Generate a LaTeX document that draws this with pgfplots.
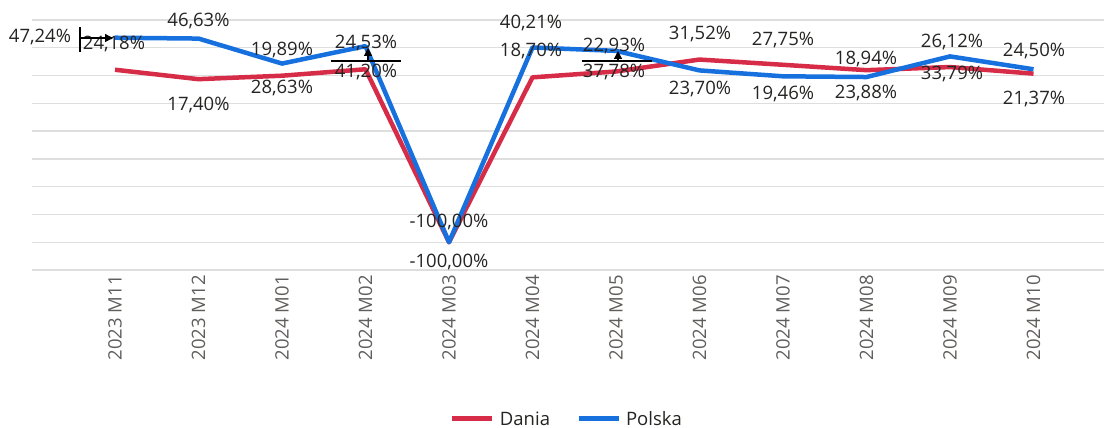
\documentclass[border=0pt]{standalone}
\usepackage{fontspec}
\setmainfont{Open Sans}
\usepackage{pgfplots}
\usepackage{pgfplotstable}
\pgfplotsset{compat=1.18}
\usetikzlibrary{arrows.meta}

\definecolor{dania}{RGB}{214,44,72}
\definecolor{polska}{RGB}{22,112,222}
\definecolor{gridc}{RGB}{222,222,222}
\definecolor{tickc}{RGB}{96,94,92}
\definecolor{labc}{RGB}{37,36,35}

% x = month index, y = value (%), dx/dy = label offset in pt
\pgfplotstableread{
x  y      dx    dy
0  24.18  -1    25.7
1  17.40  0     -25.5
2  19.89  0     25.7
3  24.53  0.5   25.8
4  -100   0     20.7
5  18.70  -1.5  25.9
6  22.93  -2    25.5
7  31.52  0.5   26
8  27.75  0     24.8
9  23.88  -0.5  -23.3
10 26.12  2     25.5
11 21.37  0.5   -24.9
}\dania

\pgfplotstableread{
x  y      dx    dy
0  47.24  -75   1
1  46.63  0     17.6
2  28.63  0     -24.5
3  41.20  0.5   -25.4
4  -100   0     -19.3
5  40.21  -1.5  24
6  37.78  -2    -21.1
7  23.70  0.5   -18.1
8  19.46  0     -17.2
9  18.94  -0.5  18.5
10 33.79  2     -17.6
11 24.50  0.5   18.8
}\polska

\newcommand\lblfont{\fontsize{18.5}{21}\selectfont}

\begin{document}
\begin{tikzpicture}
\useasboundingbox (-32pt,-158pt) rectangle (1072pt,270pt);
\begin{axis}[
    at={(0pt,0pt)}, anchor=south west,
    width=1072pt, height=250pt, scale only axis,
    xmin=-0.994, xmax=11.844,
    ymin=-120, ymax=60,
    ytick={-120,-100,...,60}, yticklabels={},
    ymajorgrids, grid style={gridc, line width=1.3pt},
    axis line style={draw=none},
    major tick length=0pt,
    xtick={0,...,11},
    xticklabels={2023 M11,2023 M12,2024 M01,2024 M02,2024 M03,2024 M04,2024 M05,2024 M06,2024 M07,2024 M08,2024 M09,2024 M10},
    xticklabel style={rotate=90, anchor=east, text=tickc, inner sep=0pt, font=\lblfont},
    xticklabel shift=5pt,
    clip=false,
    legend columns=2,
    legend style={at={(0.499,-0.596)}, anchor=center, draw=none, font=\lblfont, text=labc,
        /tikz/every even column/.append style={column sep=24pt},
        /tikz/every odd column/.append style={column sep=3pt}},
    legend image code/.code={\draw[#1, line width=5pt] (0pt,0pt) -- (40pt,0pt);},
    point meta=y,
]
\addplot[dania, line width=4.5pt, line join=round] table[x=x,y=y]{\dania};
\addplot[polska, line width=4.5pt, line join=round] table[x=x,y=y]{\polska};
\legend{Dania, Polska}

\addplot[draw=none, forget plot,
    visualization depends on={\thisrow{dx}\as\lblx},
    visualization depends on={\thisrow{dy}\as\lbly},
    nodes near coords={\pgfmathprintnumber[fixed,fixed zerofill,precision=2,use comma,assume math mode=true]{\pgfplotspointmeta}\%},
    every node near coord/.append style={anchor=center, font=\lblfont, text=labc, xshift=\lblx pt, yshift=\lbly pt}]
    table[x=x,y=y]{\dania};
\addplot[draw=none, forget plot,
    visualization depends on={\thisrow{dx}\as\lblx},
    visualization depends on={\thisrow{dy}\as\lbly},
    nodes near coords={\pgfmathprintnumber[fixed,fixed zerofill,precision=2,use comma,assume math mode=true]{\pgfplotspointmeta}\%},
    every node near coord/.append style={anchor=center, font=\lblfont, text=labc, xshift=\lblx pt, yshift=\lbly pt}]
    table[x=x,y=y]{\polska};
\end{axis}

% small black markers left by the original report
\draw[black, line width=1.2pt] (48pt,243pt) -- (48pt,218pt);
\draw[black, line width=1.2pt, -{Triangle[length=8pt,width=8pt]}] (49pt,232pt) -- (81pt,232pt);
\draw[black, line width=1.2pt] (299pt,209pt) -- (369pt,209pt);
\draw[black, line width=1.2pt, -{Triangle[length=8pt,width=8pt]}] (336pt,209pt) -- (336pt,222pt);
\draw[black, line width=1.2pt] (550pt,209pt) -- (620pt,209pt);
\draw[black, line width=1.2pt, -{Triangle[length=8pt,width=8pt]}] (586pt,209pt) -- (586pt,219pt);
\end{tikzpicture}
\end{document}
